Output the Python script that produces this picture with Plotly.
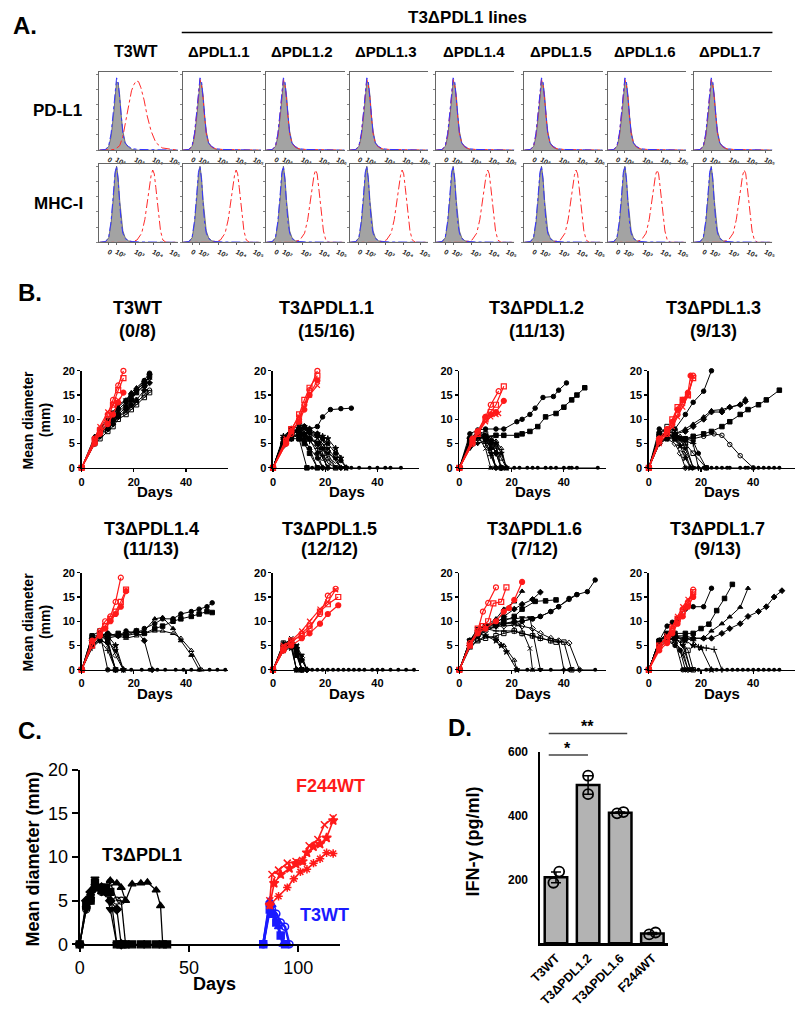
import plotly.graph_objects as go

W, H = 800, 1019
FONT = "Liberation Sans, Arial, sans-serif"

# ---------------- Panel A data (flow histograms, normalized axes) ----------------
A_COLS = ["T3WT", "ΔPDL1.1", "ΔPDL1.2", "ΔPDL1.3", "ΔPDL1.4", "ΔPDL1.5", "ΔPDL1.6", "ΔPDL1.7"]
A_ROWS_LBL = ["PD-L1", "MHC-I"]
A_TICKVALS = [0.12, 0.22, 0.46, 0.69, 0.91]
A_TICKTEXT = ["0", "10²", "10³", "10⁴", "10⁵"]

HX = [0.00, 0.08, 0.12, 0.15, 0.18, 0.20, 0.22, 0.24, 0.26, 0.28, 0.30, 0.33, 0.37, 0.42, 0.50, 1.00]
GRAY_PDL1 = [0, 0.01, 0.05, 0.18, 0.45, 0.70, 0.90, 0.88, 0.72, 0.45, 0.25, 0.10, 0.04, 0.01, 0, 0]
BLUE_PDL1 = [0, 0.01, 0.06, 0.22, 0.52, 0.78, 0.95, 0.90, 0.70, 0.42, 0.22, 0.09, 0.05, 0.02, 0.01, 0]
RED_KO_PDL1 = [0, 0.01, 0.05, 0.20, 0.50, 0.75, 0.93, 0.85, 0.68, 0.42, 0.22, 0.09, 0.04, 0.02, 0.01, 0]
GRAY_MHC = [0, 0.01, 0.06, 0.25, 0.60, 0.88, 1.00, 0.85, 0.55, 0.30, 0.15, 0.06, 0.02, 0.01, 0, 0]
BLUE_MHC = [0, 0.01, 0.07, 0.28, 0.65, 0.92, 1.00, 0.82, 0.50, 0.25, 0.12, 0.05, 0.02, 0.01, 0.005, 0]

RED_WT_PDL1_X = [0, 0.20, 0.26, 0.30, 0.34, 0.38, 0.41, 0.44, 0.47, 0.50, 0.53, 0.57, 0.61, 0.66, 0.72, 0.80, 0.90, 1.0]
RED_WT_PDL1_Y = [0, 0.01, 0.06, 0.18, 0.40, 0.62, 0.78, 0.86, 0.91, 0.90, 0.82, 0.66, 0.45, 0.25, 0.10, 0.03, 0.01, 0]

RED_MHC_DX = [-0.30, -0.20, -0.14, -0.10, -0.07, -0.04, -0.02, 0.0, 0.02, 0.04, 0.07, 0.10, 0.13, 0.17]
RED_MHC_Y = [0, 0.03, 0.12, 0.30, 0.52, 0.74, 0.88, 0.95, 0.90, 0.72, 0.42, 0.15, 0.03, 0]
RED_MHC_PEAK = [0.68, 0.68, 0.63, 0.67, 0.66, 0.66, 0.63, 0.64]

# ---------------- Panel B data (tumor growth curves) ----------------
B_TITLES = ["T3WT", "T3ΔPDL1.1", "T3ΔPDL1.2", "T3ΔPDL1.3", "T3ΔPDL1.4", "T3ΔPDL1.5", "T3ΔPDL1.6", "T3ΔPDL1.7"]
B_COUNTS = ["(0/8)", "(15/16)", "(11/13)", "(9/13)", "(11/13)", "(12/12)", "(7/12)", "(9/13)"]

B1_RED = [
    ([0, 5, 7, 10, 12, 14, 16], [0, 6, 8, 11, 14, 17, 20]),
    ([0, 5, 7, 10, 12, 14, 16], [0, 5.5, 7.5, 10, 13, 16, 18.5]),
    ([0, 5, 7, 10, 12, 14, 16], [0, 5, 7, 9, 11, 13.5, 15.5]),
    ([0, 5, 7, 10, 12, 14], [0, 6, 8.5, 11.5, 13, 14]),
]
B1_DAYS = [0, 5, 7, 10, 12, 14, 17, 19, 21, 24, 26]
B1_BLACK = [
    (B1_DAYS, [0, 6, 7.5, 9, 10.5, 12, 13.5, 15, 16, 18, 19.5]),
    (B1_DAYS, [0, 5.5, 7, 8.5, 10, 11, 12.5, 14, 15.5, 17, 19]),
    (B1_DAYS, [0, 6.5, 8, 9.5, 11, 12.5, 14, 15.5, 16.5, 18, 18.5]),
    (B1_DAYS, [0, 5, 6.5, 8, 9, 10.5, 12, 13, 14, 16, 17.5]),
    (B1_DAYS, [0, 6, 7, 8, 9.5, 10.5, 11.5, 12.5, 13.5, 15, 16]),
    (B1_DAYS, [0, 5.5, 7.5, 9, 10, 11.5, 13, 14.5, 15.5, 17, 18]),
    (B1_DAYS, [0, 6, 8, 10, 11.5, 13, 14, 15, 16, 17.5, 19]),
    (B1_DAYS, [0, 5, 6, 7.5, 8.5, 10, 11, 12, 13, 14.5, 15.5]),
]
B1_ZERO = ([], [])

B2_RED = [
    ([0, 5, 7, 10, 12, 14, 17], [0, 5, 7, 10, 13, 16, 20]),
    ([0, 5, 7, 10, 12, 14, 17], [0, 5.5, 8, 11, 14, 16.5, 19]),
    ([0, 5, 7, 10, 12, 14, 17], [0, 5, 7.5, 9.5, 12, 15, 18]),
    ([0, 5, 7, 10, 12, 14, 17], [0, 6, 8, 10.5, 12.5, 15, 17]),
]
B2_BLACK = [
    ([0, 5, 7, 10, 12, 14, 17, 19, 22, 26, 30], [0, 6, 7.5, 8, 8.5, 8, 8.5, 10.5, 12, 12.2, 12.3]),
    ([0, 4, 7, 10, 13], [0, 5, 7, 6, 0]),
    ([0, 4, 7, 10, 12, 14, 17], [0, 6, 8, 7.5, 6, 4, 0]),
    ([0, 4, 7, 10, 12, 14, 17, 19], [0, 5, 7.5, 8, 7, 6, 3, 0]),
    ([0, 4, 7, 10, 12, 14, 17, 19, 21], [0, 6, 7, 8, 7.5, 6, 5, 2, 0]),
    ([0, 4, 7, 10, 12, 14, 17, 19, 21, 24], [0, 5.5, 8, 8.5, 8, 7, 6, 5, 3, 0]),
    ([0, 4, 7, 10, 12, 14, 17, 19, 21, 24, 26], [0, 6, 7.5, 8, 7, 7, 6.5, 6, 4, 2, 0]),
    ([0, 4, 7, 10, 12, 14, 17, 19, 21, 24], [0, 5, 6.5, 7, 6.5, 6, 5, 3, 1, 0]),
    ([0, 4, 7, 10, 12, 14, 17, 19, 21, 24, 26, 28], [0, 6.5, 8, 9, 8.5, 8, 7, 6.5, 6, 4, 2, 0]),
    ([0, 4, 7, 10, 12, 14, 17, 19, 21], [0, 5, 7, 7.5, 7, 5.5, 4, 2.5, 0]),
    ([0, 4, 7, 10, 12, 14, 17, 19, 21, 24, 26], [0, 4.5, 6, 7, 6.5, 6, 5.5, 5, 3.5, 1.5, 0]),
    ([0, 4, 7, 10, 12, 14, 17, 19, 21, 24], [0, 5.5, 7, 8, 8, 7.5, 6.5, 4, 2, 0]),
    ([0, 4, 7, 10, 12, 14, 17, 19], [0, 6, 7, 6.5, 5.5, 4, 2, 0]),
    ([0, 4, 7, 10, 12, 14, 17, 19, 21, 24, 26, 28], [0, 5, 6.5, 8, 8.5, 7.5, 7, 6, 5, 3, 1.5, 0]),
    ([0, 4, 7, 10, 12, 14, 17], [0, 5, 6, 6, 5, 3, 0]),
    ([0, 4, 7, 10, 12, 14, 17, 19, 21, 24, 26], [0, 6, 8, 7, 6.5, 6, 5, 4, 3, 2, 0]),
]
B2_ZERO = ([13, 15, 17, 19, 21, 24, 26, 28, 30, 33, 37, 40, 43, 45, 49],
           [0, 0, 0, 0, 0, 0, 0, 0, 0, 0, 0, 0, 0, 0, 0])

B3_RED = [
    ([0, 5, 7, 10, 12, 15], [0, 5, 7.5, 10.5, 13, 15.8]),
    ([0, 5, 7, 10, 12, 14, 17], [0, 5.5, 7, 10, 11.5, 13, 16.8]),
    ([0, 5, 7, 10, 12, 14, 17], [0, 6, 7.5, 10.5, 11, 11.5, 13.8]),
    ([0, 5, 7, 10, 12, 14, 15], [0, 5, 7, 9.5, 10.5, 11, 11.2]),
]
B3_BLACK = [
    ([0, 4, 7, 10, 14, 17, 22, 24, 27, 29, 32, 36, 38, 41], [0, 7, 7.8, 8, 8, 8, 9.5, 10, 11, 12.3, 14.5, 14.7, 16, 17.5]),
    ([0, 4, 7, 10, 14, 17, 22, 24, 27, 30, 33, 37, 40, 43, 45, 48], [0, 6, 7, 6.5, 6.7, 6.7, 6.7, 7, 7.5, 8.5, 10.5, 11.2, 12.5, 14, 15, 16.5]),
    ([0, 4, 7, 10, 12, 14], [0, 5, 7, 6, 4, 0]),
    ([0, 4, 7, 10, 12, 14, 16], [0, 6, 7.5, 6.5, 5, 3, 0]),
    ([0, 4, 7, 10, 12, 14, 16, 18], [0, 5.5, 6, 6, 5.5, 4, 2, 0]),
    ([0, 4, 7, 10, 12], [0, 5, 6.5, 4, 0]),
    ([0, 4, 7, 10, 12, 14], [0, 4, 5, 5.5, 3, 0]),
    ([0, 4, 7, 10, 12, 14, 16], [0, 5, 6.5, 7, 6, 4.5, 0]),
    ([0, 4, 7, 10, 12, 14, 16, 18], [0, 6, 7, 6, 5.5, 5, 3, 0]),
    ([0, 4, 7, 10, 12, 14], [0, 5.5, 6, 5, 2.5, 0]),
    ([0, 4, 7, 10, 12, 14, 16], [0, 4.5, 6, 6.5, 5.5, 3, 0]),
    ([0, 4, 7, 10, 12, 14, 16, 18], [0, 5, 7.5, 7, 6, 5.5, 4, 0]),
    ([0, 4, 7, 10, 12, 14], [0, 6, 6.5, 6, 4, 0]),
]
B3_ZERO = ([12, 14, 16, 18, 21, 23, 26, 28, 30, 33, 35, 37, 40, 42, 43, 45, 53],
           [0, 0, 0, 0, 0, 0, 0, 0, 0, 0, 0, 0, 0, 0, 0, 0, 0])

B4_RED = [
    ([0, 4, 7, 9, 11, 13, 15, 17], [0, 6, 7, 9, 11, 13.5, 15, 19]),
    ([0, 4, 7, 9, 11, 13, 15, 17], [0, 5.5, 7.5, 10, 12.5, 14, 15, 18.5]),
    ([0, 4, 7, 9, 11, 13, 15, 16], [0, 6, 8, 9.5, 12, 14, 15.5, 19]),
    ([0, 4, 7, 9, 11, 13, 15, 17], [0, 5, 7, 8.5, 10.5, 12.5, 14.8, 18.8]),
]
B4_BLACK = [
    ([0, 4, 7, 10, 14, 17, 21, 24], [0, 8, 7.5, 8, 11, 13.5, 15.8, 20]),
    ([0, 4, 7, 10, 14, 17, 21, 24, 28, 31, 35, 38, 42, 45, 50], [0, 7, 7, 6, 6, 6.5, 7, 7.5, 8.5, 9.5, 11, 12, 13, 14, 16]),
    ([0, 4, 7, 10, 14, 17, 21, 24, 28, 31, 35, 37], [0, 7, 8, 7, 8, 9, 10.5, 11.8, 12, 12.5, 13, 14.2]),
    ([0, 4, 7, 10, 14, 17, 21, 24, 28, 31, 35, 37], [0, 6, 7.5, 7, 7.5, 8.5, 10, 11.5, 11.5, 12.5, 13, 13.7]),
    ([0, 4, 7, 10, 14, 17, 21, 25, 28, 31, 35, 40], [0, 6, 7, 6.5, 6, 6, 6.5, 7, 6.7, 4.8, 2.5, 0]),
    ([0, 4, 7, 10, 12, 14, 16], [0, 6, 7, 6, 5, 3, 0]),
    ([0, 4, 7, 10, 12, 14, 17], [0, 5, 6.5, 7, 6, 4, 0]),
    ([0, 4, 7, 10, 12, 14, 17, 22], [0, 7, 8.5, 7.5, 6, 5, 3, 0]),
    ([0, 4, 7, 10, 12, 14, 16], [0, 5.5, 6, 6, 4.5, 2, 0]),
    ([0, 4, 7, 10, 12, 14, 17, 19], [0, 6.5, 7, 6.5, 6, 5.5, 5, 0]),
    ([0, 4, 7, 10, 12, 14], [0, 5, 6, 5, 3, 0]),
    ([0, 4, 7, 10, 12, 14, 17], [0, 6, 7.5, 7, 6.5, 5, 0]),
    ([0, 4, 7, 10, 12, 14, 17, 19, 22], [0, 5, 6, 6.5, 6, 6, 5.5, 3, 0]),
]
B4_ZERO = ([14, 16, 17, 19, 21, 22, 24, 26, 28, 30, 31, 35, 37, 38, 40, 42, 44, 46, 48, 50],
           [0, 0, 0, 0, 0, 0, 0, 0, 0, 0, 0, 0, 0, 0, 0, 0, 0, 0, 0, 0])

B5_RED = [
    ([0, 4, 7, 9, 11, 13, 15], [0, 5, 8, 10, 11, 14, 19]),
    ([0, 4, 7, 9, 11, 13, 15, 17], [0, 5, 7.5, 9, 10.5, 12, 14, 16.5]),
    ([0, 4, 7, 9, 11, 13, 15, 17], [0, 6, 7, 8.5, 10, 11.5, 13, 16.2]),
]
B5_BLACK = [
    ([0, 4, 7, 10, 14, 17, 21, 24, 28, 31, 35, 38, 42, 45, 48, 50], [0, 7, 7, 7.5, 7, 8, 7.5, 8.5, 9.5, 10.5, 10.5, 11.5, 12, 12.5, 13, 13.8]),
    ([0, 4, 7, 10, 14, 17, 21, 24, 28, 31, 35, 38, 42, 45, 48, 50], [0, 6, 7.5, 7, 7.5, 7, 8, 7.5, 8.5, 9, 10, 10.5, 11, 11.5, 12, 11.8]),
    ([0, 4, 7, 10, 14, 17, 21, 24, 28, 31, 35, 38, 42, 45], [0, 6, 7, 6.5, 7, 7, 7.5, 8, 10.5, 10.8, 8.5, 6, 3, 0]),
    ([0, 4, 7, 10, 14, 17, 21, 24, 27], [0, 6.5, 7, 7.5, 7, 7.5, 8, 6, 0]),
    ([0, 4, 7, 10], [0, 6, 7.5, 0]),
    ([0, 4, 7, 10, 13], [0, 5, 6.5, 5, 0]),
    ([0, 4, 7, 10, 13, 16], [0, 6, 7, 6, 4, 0]),
    ([0, 4, 7, 10, 13], [0, 7, 8, 6, 0]),
    ([0, 4, 7, 10, 13, 16], [0, 5.5, 7, 7, 5, 0]),
    ([0, 4, 7, 10, 13], [0, 4.5, 6, 4, 0]),
    ([0, 4, 7, 10, 13, 16], [0, 6, 7.5, 6.5, 3, 0]),
    ([0, 4, 7, 10, 14, 17, 21, 24, 28, 31, 35, 38, 42, 46], [0, 5, 6.5, 7, 7, 6.5, 7, 7.5, 8, 8, 7.5, 6.5, 4, 0]),
    ([0, 4, 7, 10, 13], [0, 5, 6, 5.5, 0]),
]
B5_ZERO = ([10, 13, 16, 19, 23, 26, 29, 32, 36, 39, 42, 45, 49, 52, 55],
           [0, 0, 0, 0, 0, 0, 0, 0, 0, 0, 0, 0, 0, 0, 0])

B6_RED = [
    ([0, 4, 7, 11, 14, 18, 21, 24], [0, 4, 5.5, 7.5, 9, 11.5, 15.3, 16.7]),
    ([0, 4, 7, 11, 14, 18, 21, 25], [0, 4.5, 6, 7, 8.5, 12, 13.5, 15]),
    ([0, 4, 7, 11, 14, 18, 21, 25], [0, 4, 5, 6.5, 7.5, 9.5, 11.5, 13.3]),
    ([0, 4, 7, 11, 14, 18, 21, 24], [0, 5, 6, 8, 10, 12.5, 14, 16.5]),
]
B6_BLACK = [
    ([0, 4, 7, 9], [0, 5, 5.5, 0]),
    ([0, 4, 7, 9, 11], [0, 4.5, 6, 3, 0]),
    ([0, 4, 7, 9, 11], [0, 5.5, 5, 4, 0]),
    ([0, 4, 7, 9, 11, 13], [0, 5, 6, 4.5, 2, 0]),
    ([0, 4, 7, 9], [0, 4, 5, 0]),
    ([0, 4, 7, 9, 11], [0, 5, 6.5, 5, 0]),
    ([0, 4, 7, 9, 11, 13], [0, 4.5, 5.5, 5, 3, 0]),
    ([0, 4, 7, 9, 11], [0, 5.5, 6, 4, 0]),
    ([0, 4, 7, 9], [0, 4, 4.5, 0]),
    ([0, 4, 7, 9, 11], [0, 5, 5, 3.5, 0]),
    ([0, 4, 7, 9, 11, 13], [0, 4, 5, 4.5, 2.5, 0]),
    ([0, 4, 7, 9, 11], [0, 5, 6, 4.5, 0]),
]
B6_ZERO = ([9, 11, 13, 15, 17, 19, 21, 23, 25, 27, 29, 31, 33, 35, 38, 40, 42, 45, 48, 51, 54],
           [0, 0, 0, 0, 0, 0, 0, 0, 0, 0, 0, 0, 0, 0, 0, 0, 0, 0, 0, 0, 0])

B7_RED = [
    ([0, 4, 7, 9, 11, 14], [0, 5.5, 8, 12, 13.8, 17]),
    ([0, 4, 7, 9, 11, 13, 16, 18], [0, 5, 8.5, 9, 10, 13.7, 14, 17]),
    ([0, 4, 7, 10, 14, 17, 19, 21, 24], [0, 5, 7.5, 8.5, 10, 12, 12.7, 14.4, 18.1]),
]
B7_BLACK = [
    ([0, 4, 7, 10, 14, 17, 21, 24, 28, 31, 35, 38, 42, 45, 49, 52], [0, 5, 7.5, 8.5, 9, 9.5, 9.8, 10, 10.5, 11, 12, 13, 14.7, 15.5, 16.1, 18.5]),
    ([0, 4, 7, 10, 14, 17, 21, 24, 29, 33, 37], [0, 6, 8, 9, 9.5, 10, 11, 12.5, 14.1, 14.2, 14.4]),
    ([0, 4, 7, 10, 14, 17, 21, 24], [0, 6, 8, 9, 10.5, 12.5, 14, 16.2]),
    ([0, 4, 7, 10, 14, 17, 21, 24, 28, 31], [0, 5, 7, 8.5, 9.5, 11, 12.5, 13.5, 14.5, 16]),
    ([0, 4, 7, 10, 14, 17, 21, 24, 28, 31, 35, 38, 42, 45], [0, 5, 8, 9, 9.5, 9.5, 10, 10, 10.5, 11, 12, 13, 14.5, 15.5]),
    ([0, 4, 7, 10, 14, 17, 21, 23, 27, 28], [0, 5.5, 7, 8, 9, 9.5, 9.5, 9.4, 4.4, 0]),
    ([0, 4, 7, 10, 14, 17, 21, 24, 27, 31], [0, 6, 8.5, 9, 10, 10.5, 10.5, 10.7, 10.7, 0]),
    ([0, 4, 7, 10, 14, 17, 21, 24, 28, 31, 35, 37, 40, 43], [0, 5, 6, 6.5, 7, 7.5, 8, 7.5, 7, 6.5, 6, 5.7, 5.7, 0]),
    ([0, 4, 7, 10, 14, 16, 18, 22], [0, 6, 7.5, 7, 6, 5, 3.7, 0]),
    ([0, 4, 7, 10, 14, 17, 21, 24, 28, 31, 35, 38, 40], [0, 5.5, 8, 8.5, 8, 8, 8, 7.5, 7, 6.5, 6, 5.8, 0]),
    ([0, 4, 7, 10, 14, 17, 21, 24, 28, 31, 35, 38, 42, 46], [0, 5, 7, 8, 9, 9, 9.2, 9, 8.5, 7.5, 6.5, 6, 5.5, 0]),
    ([0, 4, 7, 10, 14, 17, 21, 22], [0, 4.5, 6, 7, 6.5, 5, 2, 0]),
]
B7_ZERO = ([22, 26, 28, 31, 35, 40, 42, 43, 46, 52], [0, 0, 0, 0, 0, 0, 0, 0, 0, 0])

B8_RED = [
    ([0, 4, 7, 9, 11, 13, 15, 17], [0, 4.5, 6, 8, 10, 12.5, 14, 16.5]),
    ([0, 4, 7, 9, 11, 13, 15, 17], [0, 5, 6.5, 8.5, 10.5, 12, 13.5, 16]),
    ([0, 4, 7, 9, 11, 13, 15, 17], [0, 4, 5.5, 7.5, 9.5, 11, 13, 15]),
    ([0, 4, 7, 9, 11, 13, 15, 17], [0, 5, 7, 9, 11, 13, 14.5, 15.5]),
]
B8_BLACK = [
    ([0, 4, 7, 9, 11, 14, 17, 21, 24], [0, 6, 9, 9.8, 10.5, 12.5, 13, 13, 16.8]),
    ([0, 4, 7, 10, 14, 17, 20, 23, 26, 29, 32], [0, 6, 7.5, 7.5, 7.5, 7.5, 8.5, 9.4, 12.2, 14.7, 17.6]),
    ([0, 4, 7, 10, 14, 17, 21, 24, 28, 31, 35, 38], [0, 6, 7, 7, 7, 6.5, 6.5, 8, 9.5, 10.9, 12.9, 16.8]),
    ([0, 4, 7, 10, 14, 17, 21, 24, 28, 31, 35, 38, 42, 45, 48, 51], [0, 5.5, 6.5, 6.5, 6.5, 6.5, 6.5, 6.5, 7.5, 8.5, 9.5, 11, 12, 13, 15, 16.3]),
    ([0, 4, 7, 10, 13], [0, 6, 7, 6, 0]),
    ([0, 4, 7, 10, 13, 15], [0, 5, 6.5, 6, 3, 0]),
    ([0, 4, 7, 10, 13, 16], [0, 6, 7.5, 6.5, 5, 0]),
    ([0, 4, 7, 10, 13, 15, 17], [0, 5.5, 6, 6.5, 5.5, 4, 0]),
    ([0, 4, 7, 10, 14, 17, 20, 24], [0, 6, 7, 7, 6, 5, 4.5, 0]),
    ([0, 4, 7, 10, 14, 17, 19, 22, 25, 28], [0, 5, 6.5, 7, 6.5, 6, 4.7, 4.5, 4.2, 0]),
    ([0, 4, 7, 10, 13, 15], [0, 4.5, 6, 5.5, 4, 0]),
    ([0, 4, 7, 10, 13, 16], [0, 5, 7, 7, 6, 0]),
    ([0, 4, 7, 10, 12, 14], [0, 5.5, 6, 5, 4, 0]),
]
B8_ZERO = ([13, 15, 16, 17, 19, 22, 24, 26, 28, 30, 32, 34, 36, 38, 40, 42, 44, 46, 48, 50],
           [0, 0, 0, 0, 0, 0, 0, 0, 0, 0, 0, 0, 0, 0, 0, 0, 0, 0, 0, 0])

# ---------------- Panel C data ----------------
C_BLACK = [
    ([0, 3, 5, 7, 10, 12, 14, 17, 19, 21, 24, 28, 31, 35, 38, 40], [0, 4.5, 5, 7, 6.5, 6.5, 6, 0, 0, 0, 0, 0, 0, 0, 0, 0]),
    ([0, 3, 5, 7, 10, 12, 14, 17, 19, 21], [0, 4, 5, 6.5, 6, 6, 7.1, 5, 5, 0]),
    ([0, 3, 5, 7, 10, 12, 14, 17, 19, 21, 24, 28, 31, 35, 37, 38], [0, 4.5, 5.5, 7, 6, 6, 7.3, 7, 6.5, 5, 6.9, 7, 7.1, 6.2, 4.4, 0]),
    ([0, 3, 5, 7, 10, 12, 14, 17], [0, 4, 5.5, 7.5, 6, 6, 4, 0]),
    ([0, 3, 5, 7, 10, 12, 14, 17, 19], [0, 5, 6, 6.5, 6.5, 6, 5, 4, 0]),
]
C_BLUE = [
    ([84, 87, 88, 89, 91, 93, 95], [0, 5, 4.5, 3.5, 2, 0, 0]),
    ([84, 87, 88, 90, 92, 94, 96], [0, 4.5, 4, 3.5, 2.5, 2, 0]),
    ([84, 87, 88, 90, 92, 94], [0, 4, 3.5, 2.5, 1, 0]),
]
C_RED = [
    ([87, 88, 91, 95, 99, 102, 105, 109, 112, 116], [5, 8, 8.5, 9.3, 9.5, 9.6, 11.3, 12, 13.7, 14.5]),
    ([87, 89, 92, 96, 99, 102, 104, 107, 110, 113, 116], [4.5, 7, 8, 8.7, 9.2, 9.5, 10.5, 11.2, 11.5, 12.2, 14.2]),
    ([87, 91, 95, 98, 101, 104, 107, 110, 113, 116], [4.5, 5.5, 6.5, 7.5, 8.3, 8.6, 9.3, 9.8, 10.5, 10.4]),
]

# ---------------- Panel D data ----------------
D_CATS = ["T3WT", "T3ΔPDL1.2", "T3ΔPDL1.6", "F244WT"]
D_MEANS = [207, 497, 410, 31]
D_SEM = [17, 29, 2, 3]
D_PT_CAT = [0, 0, 1, 1, 2, 2, 3, 3]
D_PT_OFF = [-0.08, 0.10, 0.0, 0.0, -0.10, 0.10, -0.10, 0.10]
D_PT_VAL = [190, 225, 526, 468, 408, 412, 28, 34]

# =====================================================================
fig = go.Figure()
axes = {}
count = [0]


def new_axes(px0, px1, ptop, pbot, xcfg, ycfg):
    count[0] += 1
    n = count[0]
    s = "" if n == 1 else str(n)
    axes["xaxis" + s] = dict(domain=[px0 / W, px1 / W], anchor="y" + s, **xcfg)
    axes["yaxis" + s] = dict(domain=[1 - pbot / H, 1 - ptop / H], anchor="x" + s, **ycfg)
    return "x" + s, "y" + s


def bold(size, color="black"):
    return dict(family=FONT, size=size, color=color, weight="bold")


annos = []
shapes = []


def text(t, x, y, size, color="black", angle=0, xanchor="center", weight="bold"):
    annos.append(dict(text=t, x=x / W, y=1 - y / H, xref="paper", yref="paper",
                      showarrow=False, textangle=angle, xanchor=xanchor, yanchor="middle",
                      font=dict(family=FONT, size=size, color=color, weight=weight)))


# ---------------- Panel A ----------------
A_LEFTS = [90, 175, 260, 345, 433, 523, 608, 696]
A_BOX = [(63, 143), (157, 237)]
A_TITLE_X = [127, 212, 297, 382, 472, 561, 646, 733]
hx_cfg = dict(range=[0, 1], showline=True, linecolor="#666", linewidth=1, mirror=True,
              ticks="outside", ticklen=2, tickwidth=0.8, tickcolor="#444",
              tickvals=A_TICKVALS, ticktext=A_TICKTEXT,
              tickfont=dict(family=FONT, size=7, color="#222", weight="bold"),
              showgrid=False, zeroline=False)
hy_cfg = dict(range=[0, 1.03], showline=True, linecolor="#666", linewidth=1,
              ticks="outside", ticklen=2, tickwidth=0.8, tickcolor="#666",
              tickvals=[0, 0.2, 0.4, 0.6, 0.8, 1.0], showticklabels=False,
              showgrid=False, zeroline=False)

for i, left in enumerate(A_LEFTS):
    for r, (top, bot) in enumerate(A_BOX):
        xa, ya = new_axes(left, left + 80, top, bot, hx_cfg, hy_cfg)
        gray = GRAY_PDL1 if r == 0 else GRAY_MHC
        blue = BLUE_PDL1 if r == 0 else BLUE_MHC
        fig.add_trace(go.Scatter(x=HX, y=gray, xaxis=xa, yaxis=ya, mode="lines",
                                 fill="tozeroy", fillcolor="#a3a3a3",
                                 line=dict(color="#5a5a5a", width=0.8), hoverinfo="skip"))
        if r == 0:
            if i == 0:
                rx, ry = RED_WT_PDL1_X, RED_WT_PDL1_Y
            else:
                rx, ry = HX, RED_KO_PDL1
        else:
            p = RED_MHC_PEAK[i]
            rx = [0] + [p + d for d in RED_MHC_DX] + [1]
            ry = [0] + RED_MHC_Y + [0]
        fig.add_trace(go.Scatter(x=rx, y=ry, xaxis=xa, yaxis=ya, mode="lines",
                                 line=dict(color="#ff2a2a", width=1, dash="dashdot"), hoverinfo="skip"))
        fig.add_trace(go.Scatter(x=HX, y=blue, xaxis=xa, yaxis=ya, mode="lines",
                                 line=dict(color="#3535ff", width=1, dash="dashdot"), hoverinfo="skip"))
    text(A_COLS[i], A_TITLE_X[i], 42, 16 if i == 0 else 15)

text("A.", 0, 16, 24, xanchor="left")
text("T3ΔPDL1 lines", 465, 8, 17)
shapes.append(dict(type="line", xref="paper", yref="paper", x0=174 / W, x1=776 / W,
                   y0=1 - 23 / H, y1=1 - 23 / H, line=dict(color="black", width=1.5)))
text("PD-L1", 47, 103, 17)
text("MHC-I", 48, 197, 17)

# ---------------- Panel B ----------------
B_X0 = [72, 267, 457, 650]
B_ROW_TOP = [368, 574]
B_TITLE_X = [[129, 322, 536, 716], [143, 325, 533, 720]]
B_TITLE_Y = [(304, 327), (529, 550)]
B_DATA = [(B1_RED, B1_BLACK, B1_ZERO), (B2_RED, B2_BLACK, B2_ZERO), (B3_RED, B3_BLACK, B3_ZERO),
          (B4_RED, B4_BLACK, B4_ZERO), (B5_RED, B5_BLACK, B5_ZERO), (B6_RED, B6_BLACK, B6_ZERO),
          (B7_RED, B7_BLACK, B7_ZERO), (B8_RED, B8_BLACK, B8_ZERO)]
BLACK_SYMS = ["circle", "square", "triangle-up", "diamond", "circle-open", "x-thin-open",
              "triangle-down", "square-open", "star", "cross-thin-open", "diamond-open",
              "triangle-up-open", "hexagon", "circle", "square", "triangle-down"]
RED_SYMS = ["circle-open", "square-open", "circle", "x-thin-open"]
RED = "#ff1a1a"

bx_cfg = dict(range=[0, 56], tickvals=[0, 20, 40], ticks="outside", ticklen=3, tickwidth=1.2,
              showline=True, linewidth=1.5, linecolor="black", tickcolor="black",
              showgrid=False, zeroline=False, tickfont=bold(11))
by_cfg = dict(range=[0, 20], tickvals=[0, 5, 10, 15, 20], ticks="outside", ticklen=3, tickwidth=1.2,
              showline=True, linewidth=1.5, linecolor="black", tickcolor="black",
              showgrid=False, zeroline=False, tickfont=bold(11))

for k, (reds, blacks, zero) in enumerate(B_DATA):
    row, col = divmod(k, 4)
    x0 = B_X0[col]
    top = B_ROW_TOP[row]
    xa, ya = new_axes(x0, x0 + 149, top, top + 99, bx_cfg, by_cfg)
    if zero[0]:
        fig.add_trace(go.Scatter(x=zero[0], y=zero[1], xaxis=xa, yaxis=ya, mode="lines+markers",
                                 line=dict(color="black", width=1),
                                 marker=dict(symbol="circle", size=4, color="black"),
                                 cliponaxis=False, hoverinfo="skip"))
    for j, (d, v) in enumerate(blacks):
        sym = BLACK_SYMS[j % len(BLACK_SYMS)]
        fig.add_trace(go.Scatter(x=d, y=v, xaxis=xa, yaxis=ya, mode="lines+markers",
                                 line=dict(color="black", width=1),
                                 marker=dict(symbol=sym, size=4.5, color="black",
                                             line=dict(color="black", width=1)),
                                 cliponaxis=False, hoverinfo="skip"))
    for j, (d, v) in enumerate(reds):
        sym = RED_SYMS[j % len(RED_SYMS)]
        fig.add_trace(go.Scatter(x=d, y=v, xaxis=xa, yaxis=ya, mode="lines+markers",
                                 line=dict(color=RED, width=1.2),
                                 marker=dict(symbol=sym, size=5, color=RED,
                                             line=dict(color=RED, width=1.2)),
                                 cliponaxis=False, hoverinfo="skip"))
    text(B_TITLES[k], B_TITLE_X[row][col], B_TITLE_Y[row][0], 18)
    text(B_COUNTS[k], B_TITLE_X[row][col], B_TITLE_Y[row][1], 18)
    text("Days", x0 + 75, top + 123, 15)

for top in B_ROW_TOP:
    text("Mean diameter", 17, top + 50, 14, angle=-90)
    text("(mm)", 34, top + 50, 14, angle=-90)
text("B.", 5, 288, 24, xanchor="left")

# ---------------- Panel C ----------------
cx_cfg = dict(range=[0, 119], tickvals=[0, 50, 100], ticks="outside", ticklen=6, tickwidth=2,
              showline=True, linewidth=2, linecolor="black", tickcolor="black",
              showgrid=False, zeroline=False, tickfont=dict(family=FONT, size=18, color="black"))
cy_cfg = dict(range=[0, 20], tickvals=[0, 5, 10, 15, 20], ticks="outside", ticklen=6, tickwidth=2,
              showline=True, linewidth=2, linecolor="black", tickcolor="black",
              showgrid=False, zeroline=False, tickfont=dict(family=FONT, size=18, color="black"))
xa, ya = new_axes(70, 335, 775, 953, cx_cfg, cy_cfg)
C_BLACK_SYMS = ["square", "circle-open", "triangle-up", "triangle-down", "diamond"]
for j, (d, v) in enumerate(C_BLACK):
    fig.add_trace(go.Scatter(x=d, y=v, xaxis=xa, yaxis=ya, mode="lines+markers",
                             line=dict(color="black", width=1.3),
                             marker=dict(symbol=C_BLACK_SYMS[j], size=7, color="black",
                                         line=dict(color="black", width=1.3)),
                             cliponaxis=False, hoverinfo="skip"))
C_BLUE_SYMS = ["triangle-up", "circle-open", "square"]
for j, (d, v) in enumerate(C_BLUE):
    fig.add_trace(go.Scatter(x=d, y=v, xaxis=xa, yaxis=ya, mode="lines+markers",
                             line=dict(color="#1a1aff", width=2.5),
                             marker=dict(symbol=C_BLUE_SYMS[j], size=7, color="#1a1aff",
                                         line=dict(color="#1a1aff", width=1.5)),
                             cliponaxis=False, hoverinfo="skip"))
C_RED_SYMS = ["x-thin-open", "star", "asterisk-open"]
for j, (d, v) in enumerate(C_RED):
    fig.add_trace(go.Scatter(x=d, y=v, xaxis=xa, yaxis=ya, mode="lines+markers",
                             line=dict(color=RED, width=1.6),
                             marker=dict(symbol=C_RED_SYMS[j], size=7, color=RED,
                                         line=dict(color=RED, width=1.5)),
                             cliponaxis=False, hoverinfo="skip"))
text("C.", 5, 735, 24, xanchor="left")
text("Days", 207, 993, 18)
text("Mean diameter (mm)", 22, 866, 18, angle=-90)
text("T3ΔPDL1", 133, 862, 18)
text("F244WT", 326, 792, 18, color=RED)
text("T3WT", 319, 923, 18, color="#1a1aff")

# ---------------- Panel D ----------------
dx_cfg = dict(range=[-0.5, 3.5], tickvals=[0, 1, 2, 3], ticktext=D_CATS, tickangle=-45,
              ticks="", showline=True, linewidth=2.5, linecolor="black",
              showgrid=False, zeroline=False, tickfont=bold(12.5))
dy_cfg = dict(range=[0, 600], tickvals=[200, 400, 600], ticks="", showline=True, linewidth=1.5,
              linecolor="black", showgrid=False, zeroline=False, tickfont=bold(12), ticklabelstandoff=8)
xa, ya = new_axes(539, 670, 757, 952, dx_cfg, dy_cfg)
fig.add_trace(go.Bar(x=[0, 1, 2, 3], y=D_MEANS, width=0.7, xaxis=xa, yaxis=ya,
                     marker=dict(color="#b3b3b3", line=dict(color="black", width=2.5)),
                     error_y=dict(type="data", array=D_SEM, color="black", thickness=1.5, width=5),
                     hoverinfo="skip"))
fig.add_trace(go.Scatter(x=[c + o for c, o in zip(D_PT_CAT, D_PT_OFF)], y=D_PT_VAL,
                         xaxis=xa, yaxis=ya, mode="markers",
                         marker=dict(symbol="circle-open", size=10, color="black",
                                     line=dict(color="black", width=1.8)),
                         cliponaxis=False, hoverinfo="skip"))
text("D.", 443, 732, 24, xanchor="left")
text("IFN-γ (pg/ml)", 471, 848, 18, angle=-90)
shapes.append(dict(type="line", xref="paper", yref="paper", x0=548 / W, x1=588 / W,
                   y0=1 - 760 / H, y1=1 - 760 / H, line=dict(color="#444", width=1.5)))
shapes.append(dict(type="line", xref="paper", yref="paper", x0=548 / W, x1=628 / W,
                   y0=1 - 738 / H, y1=1 - 738 / H, line=dict(color="#444", width=1.5)))
text("*", 567, 753, 16)
text("**", 588, 731, 16)

fig.update_layout(width=W, height=H, margin=dict(l=0, r=0, t=0, b=0),
                  paper_bgcolor="white", plot_bgcolor="white", showlegend=False,
                  annotations=annos, shapes=shapes, font=dict(family=FONT), **axes)
fig.write_html("out.html", config={"displayModeBar": False, "staticPlot": True},
               post_script="document.body.style.margin='0';document.body.style.overflow='hidden';")
